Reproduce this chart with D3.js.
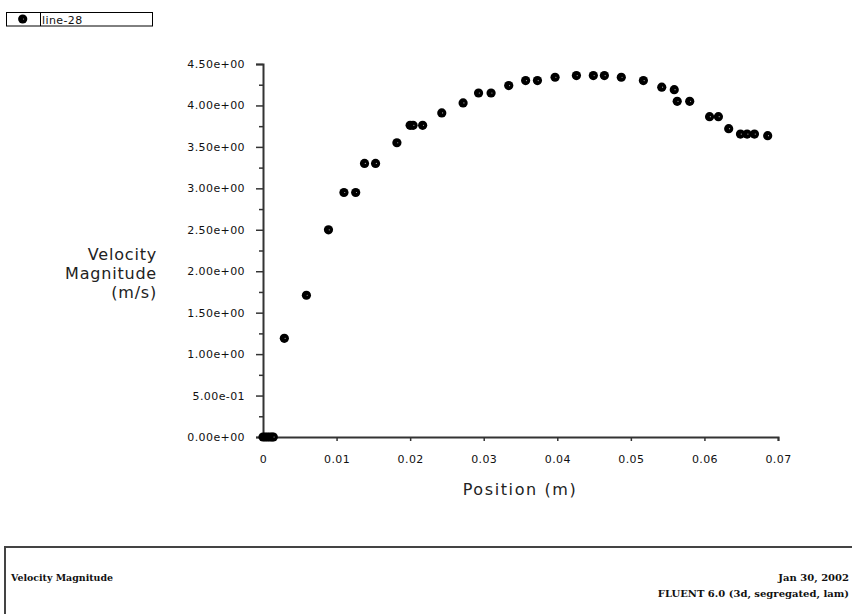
<!DOCTYPE html>
<html lang="en">
<head>
    <title>Velocity Magnitude</title>
    <script src="https://d3js.org/d3.v7.min.js" charset="utf-8"></script>
    <style type="text/css">
        body
        {
            margin: 0;
            background-color: white;
        }
        svg
        {
            display: block;
        }
        .tick-label
        {
            font-family: "DejaVu Sans", sans-serif;
            font-size: 11px;
            letter-spacing: 0.4px;
            fill: #111;
        }
        .axis-title
        {
            font-family: "DejaVu Sans", sans-serif;
            font-size: 16px;
            letter-spacing: 0.8px;
            fill: #222;
        }
        .footer
        {
            font-family: "DejaVu Serif", serif;
            font-size: 10px;
            font-weight: bold;
            fill: #111;
        }
    </style>
</head>
<body>
    <div id="chart_div"></div>
    <script>
    "use strict";
    var svg_width = 852;
    var svg_height = 614;

    // line-28 samples
    var position = [0, 0.0003, 0.0006, 0.0009, 0.0012, 0.0014,
        0.0029, 0.0059, 0.0089, 0.0110, 0.0126, 0.0138, 0.0153, 0.0182,
        0.0200, 0.0204, 0.0217, 0.0243, 0.0272, 0.0293, 0.0310, 0.0334,
        0.0357, 0.0373, 0.0397, 0.0426, 0.0449, 0.0464, 0.0487, 0.0517,
        0.0542, 0.0559, 0.0563, 0.0580, 0.0607, 0.0619, 0.0633, 0.0649,
        0.0658, 0.0668, 0.0686];
    var velocity = [0, 0, 0, 0, 0, 0,
        1.19, 1.71, 2.50, 2.95, 2.95, 3.30, 3.30, 3.55,
        3.76, 3.76, 3.76, 3.91, 4.03, 4.15, 4.15, 4.24,
        4.30, 4.30, 4.34, 4.36, 4.36, 4.36, 4.34, 4.30,
        4.22, 4.19, 4.05, 4.05, 3.865, 3.865, 3.72, 3.655,
        3.655, 3.655, 3.635];

    var y_ticks = [0, 0.5, 1, 1.5, 2, 2.5, 3, 3.5, 4, 4.5];
    var y_minor = [0.25, 0.75, 1.25, 1.75, 2.25, 2.75, 3.25, 3.75, 4.25];
    var x_ticks = [0, 0.01, 0.02, 0.03, 0.04, 0.05, 0.06, 0.07];
    var x_tick_labels = ["0", "0.01", "0.02", "0.03", "0.04", "0.05", "0.06", "0.07"];
    var y_title = ["Velocity", "Magnitude", "(m/s)"];
    var series_name = "line-28";

    var points = position.map(function(p, i) { return {x: p, y: velocity[i]}; });

    var x_scale = d3.scaleLinear().domain([0, 0.07]).range([263, 778]);
    var y_scale = d3.scaleLinear().domain([0, 4.5]).range([437, 64]);

    var svg = d3.select("#chart_div")
        .append("svg")
        .attr("width", svg_width)
        .attr("height", svg_height);

    // y axis
    var y_axis = d3.axisLeft(y_scale)
        .tickValues(y_ticks)
        .tickSize(7)
        .tickPadding(11)
        .tickFormat(function(d)
        {
            return d3.format(".2e")(d).replace(/e([+-])(\d)$/, "e$10$2");
        });
    var gy = svg.append("g")
        .attr("transform", "translate(263,0)")
        .call(y_axis);
    gy.select(".domain").attr("stroke", "#333").attr("stroke-width", 2);
    gy.selectAll(".tick line").attr("stroke", "#333").attr("stroke-width", 1.5);
    gy.selectAll(".tick text").attr("class", "tick-label").attr("font-family", null).attr("font-size", null);

    var y_axis_minor = d3.axisLeft(y_scale)
        .tickValues(y_minor)
        .tickSize(4)
        .tickFormat("");
    var gym = svg.append("g")
        .attr("transform", "translate(263,0)")
        .call(y_axis_minor);
    gym.select(".domain").remove();
    gym.selectAll(".tick line").attr("stroke", "#333").attr("stroke-width", 1.5);

    // x axis
    var x_axis = d3.axisBottom(x_scale)
        .tickValues(x_ticks)
        .tickSize(4)
        .tickPadding(14)
        .tickFormat(function(d, i) { return x_tick_labels[i]; });
    var gx = svg.append("g")
        .attr("transform", "translate(0,437)")
        .call(x_axis);
    gx.select(".domain").attr("stroke", "#333").attr("stroke-width", 2);
    gx.selectAll(".tick line").attr("stroke", "#333").attr("stroke-width", 1.5);
    gx.selectAll(".tick text").attr("class", "tick-label").attr("font-family", null).attr("font-size", null);

    // titles
    svg.append("text")
        .attr("class", "axis-title")
        .attr("x", 520)
        .attr("y", 495)
        .attr("text-anchor", "middle")
        .style("letter-spacing", "1.6px")
        .text("Position (m)");
    svg.selectAll(".ytitle")
        .data(y_title)
        .enter()
        .append("text")
        .attr("class", "axis-title ytitle")
        .attr("x", 157)
        .attr("y", function(d, i) { return 260 + i * 19; })
        .attr("text-anchor", "end")
        .text(function(d) { return d; });

    // markers
    function draw_marker(sel)
    {
        sel.append("circle").attr("r", 4.6).attr("fill", "#000");
        sel.append("circle").attr("cx", 0.8).attr("cy", 0).attr("r", 0.6).attr("fill", "#aaa");
    }
    var marks = svg.append("g")
        .selectAll("g")
        .data(points)
        .enter()
        .append("g")
        .attr("transform", function(d) { return "translate(" + x_scale(d.x) + "," + y_scale(d.y) + ")"; });
    draw_marker(marks);

    // legend
    var legend = svg.append("g");
    legend.append("rect")
        .attr("x", 6.5).attr("y", 12.5)
        .attr("width", 146).attr("height", 13.5)
        .attr("fill", "white").attr("stroke", "#000");
    legend.append("line")
        .attr("x1", 40.5).attr("x2", 40.5)
        .attr("y1", 12.5).attr("y2", 26)
        .attr("stroke", "#000");
    draw_marker(legend.append("g").attr("transform", "translate(22.7,19)"));
    legend.append("text")
        .attr("class", "tick-label")
        .attr("x", 42)
        .attr("y", 23.5)
        .text(series_name);

    // footer box
    svg.append("path")
        .attr("d", "M5,620 V547 H860")
        .attr("fill", "none")
        .attr("stroke", "#444")
        .attr("stroke-width", 2);
    svg.append("text")
        .attr("class", "footer")
        .attr("x", 11).attr("y", 581)
        .attr("textLength", 102).attr("lengthAdjust", "spacingAndGlyphs")
        .text("Velocity Magnitude");
    svg.append("text")
        .attr("class", "footer")
        .attr("x", 849).attr("y", 581)
        .attr("text-anchor", "end")
        .text("Jan 30, 2002");
    svg.append("text")
        .attr("class", "footer")
        .attr("x", 849).attr("y", 597)
        .attr("text-anchor", "end")
        .text("FLUENT 6.0 (3d, segregated, lam)");
    </script>
</body>
</html>
